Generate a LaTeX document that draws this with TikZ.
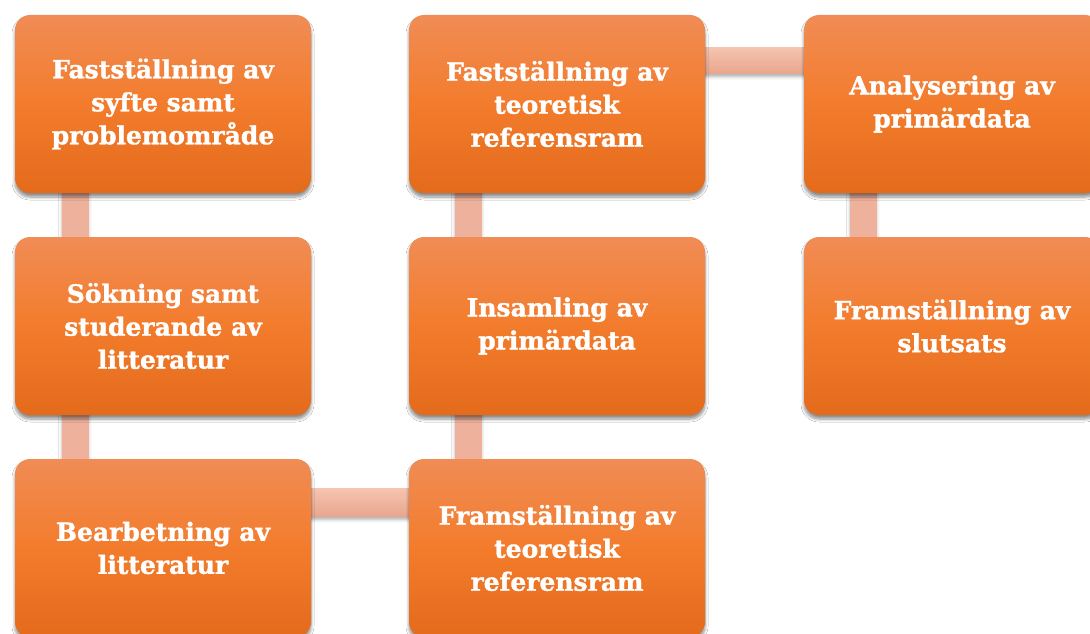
\documentclass[tikz,border=0pt]{standalone}
\usepackage{fontspec}
\setmainfont{DejaVu Serif}[BoldFeatures={FakeBold=1.3}]
\usetikzlibrary{shadows.blur,backgrounds}
\definecolor{boxtop}{HTML}{F08C55}
\definecolor{boxmid}{HTML}{F37C2C}
\definecolor{boxbot}{HTML}{E46A1C}
\definecolor{bartop}{HTML}{F5C4AF}
\definecolor{barbot}{HTML}{E9A58D}
\definecolor{barfill}{HTML}{EEB29C}
\tikzset{
  stepbox/.style={rectangle, rounded corners=15pt, minimum width=296pt, minimum height=178pt,
    inner sep=0pt, top color=boxtop, bottom color=boxbot, middle color=boxmid,
    blur shadow={shadow xshift=0pt, shadow yshift=-4pt, shadow blur steps=6, shadow opacity=45, shadow blur radius=3pt},
    text=white, align=center, font=\fontsize{25}{33}\selectfont\bfseries},
  vbar/.style={fill=barfill, blur shadow={shadow xshift=0pt, shadow yshift=-2pt, shadow blur steps=4, shadow opacity=25, shadow blur radius=3pt}},
  hbar/.style={top color=bartop, bottom color=barbot, blur shadow={shadow xshift=0pt, shadow yshift=-3pt, shadow blur steps=4, shadow opacity=30, shadow blur radius=3pt}}
}
\begin{document}
\begin{tikzpicture}[x=1pt,y=-1pt]
\useasboundingbox (0,0) rectangle (1090,634);
\clip (0,0) rectangle (1090,634);
\node[stepbox] (n1) at (163,104) {Fastställning av\\syfte samt\\problemområde};
\node[stepbox] (n2) at (163,326) {Sökning samt\\studerande av\\litteratur};
\node[stepbox] (n3) at (163,548) {Bearbetning av\\litteratur};
\node[stepbox] (n4) at (557,104) {Fastställning av\\teoretisk\\referensram};
\node[stepbox] (n5) at (557,326) {Insamling av\\primärdata};
\node[stepbox] (n6) at (557,548) {Framställning av\\teoretisk\\referensram};
\node[stepbox] (n7) at (952,104) {Analysering av\\primärdata};
\node[stepbox] (n8) at (952,326) {Framställning av\\slutsats};
\begin{scope}[on background layer]
\fill[white] (0,0) rectangle (1090,634);
\path[vbar] ([xshift=47pt,yshift=5pt]n1.south west) rectangle ([xshift=74pt,yshift=-5pt]n2.north west);
\path[vbar] ([xshift=47pt,yshift=5pt]n2.south west) rectangle ([xshift=74pt,yshift=-5pt]n3.north west);
\path[hbar] ([xshift=-5pt,yshift=-30pt]n3.north east) rectangle ([xshift=5pt,yshift=-58pt]n6.north west);
\path[vbar] ([xshift=46pt,yshift=5pt]n5.south west) rectangle ([xshift=73pt,yshift=-5pt]n6.north west);
\path[vbar] ([xshift=46pt,yshift=5pt]n4.south west) rectangle ([xshift=73pt,yshift=-5pt]n5.north west);
\path[hbar] ([xshift=-5pt,yshift=-33pt]n4.north east) rectangle ([xshift=5pt,yshift=-59pt]n7.north west);
\path[vbar] ([xshift=46pt,yshift=5pt]n7.south west) rectangle ([xshift=73pt,yshift=-5pt]n8.north west);
\end{scope}
\end{tikzpicture}
\end{document}
